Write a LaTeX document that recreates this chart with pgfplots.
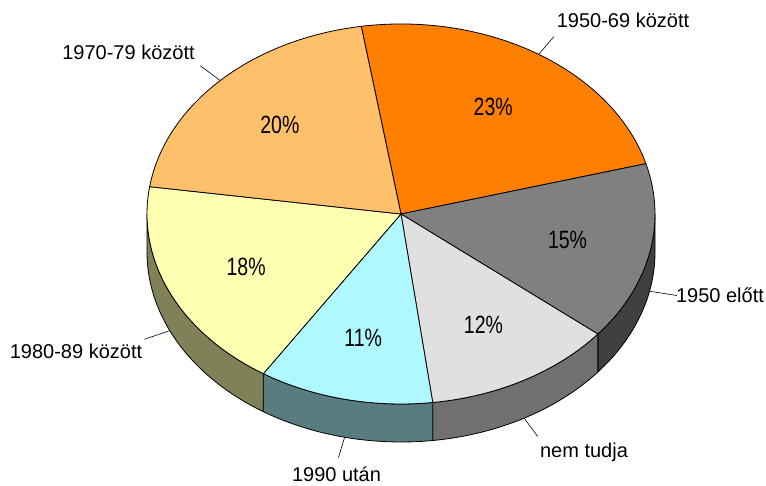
\documentclass[border=0pt]{standalone}
\usepackage{pgfplots}
\pgfplotsset{compat=1.18}
\usepackage{pgfplotstable}
\usepackage{fontspec}
\setmainfont{Liberation Sans}
\newfontfamily\narrowfont[FakeStretch=0.78]{Liberation Sans}

\definecolor{t0}{HTML}{FF8000}
\definecolor{t1}{HTML}{808080}
\definecolor{t2}{HTML}{E0E0E0}
\definecolor{t3}{HTML}{B0F8FF}
\definecolor{t4}{HTML}{FFFFB2}
\definecolor{t5}{HTML}{FFC06C}

% name, value (%), top colour, label baseline position
\pgfplotstableread[col sep=comma]{
name,value,top,lx,ly
1950-69 között,23,t0,623,457.8
1950 előtt,15,t1,720,182.3
nem tudja,12,t2,584,27.3
1990 után,11,t3,336.5,3.8
1980-89 között,18,t4,76,126.7
1970-79 között,20,t5,128.5,425.8
}\piedata

\def\cx{401}\def\cy{271}\def\rx{254}\def\ry{190}\def\dep{38}\def\startang{99}

\begin{document}
\begin{tikzpicture}
\gdef\tot{0}
\foreach \i in {0,...,5}{%
  \pgfplotstablegetelem{\i}{value}\of\piedata
  \pgfmathsetmacro\tmp{\tot+\pgfplotsretval}%
  \xdef\tot{\tmp}%
}
\xdef\cur{\startang}
\foreach \i in {0,...,5}{%
  \pgfplotstablegetelem{\i}{value}\of\piedata
  \let\val\pgfplotsretval
  \expandafter\xdef\csname V\i\endcsname{\val}%
  \pgfplotstablegetelem{\i}{name}\of\piedata
  \expandafter\xdef\csname N\i\endcsname{\pgfplotsretval}%
  \pgfplotstablegetelem{\i}{top}\of\piedata
  \expandafter\xdef\csname C\i\endcsname{\pgfplotsretval}%
  \pgfplotstablegetelem{\i}{lx}\of\piedata
  \expandafter\xdef\csname LX\i\endcsname{\pgfplotsretval}%
  \pgfplotstablegetelem{\i}{ly}\of\piedata
  \expandafter\xdef\csname LY\i\endcsname{\pgfplotsretval}%
  \pgfmathsetmacro\a{\cur}%
  \pgfmathsetmacro\b{\cur-360*\val/\tot}%
  \pgfmathsetmacro\m{(\a+\b)/2}%
  \pgfmathsetmacro\sa{min(\a,0)}%
  \pgfmathsetmacro\sb{max(\b,-180)}%
  \pgfmathtruncatemacro\vis{\sb<\sa ? 1 : 0}%
  \pgfmathtruncatemacro\front{((\m<0) && (\m>-180)) ? 1 : 0}%
  \expandafter\xdef\csname A\i\endcsname{\a}%
  \expandafter\xdef\csname B\i\endcsname{\b}%
  \expandafter\xdef\csname SA\i\endcsname{\sa}%
  \expandafter\xdef\csname SB\i\endcsname{\sb}%
  \expandafter\xdef\csname VIS\i\endcsname{\vis}%
  \pgfmathsetmacro\tmpx{\cx+\rx*cos(\a)}\expandafter\xdef\csname AX\i\endcsname{\tmpx}%
  \pgfmathsetmacro\tmpy{\cy+\ry*sin(\a)}\expandafter\xdef\csname AY\i\endcsname{\tmpy}%
  \pgfmathsetmacro\tmpx{\cx+\rx*cos(\sa)}\expandafter\xdef\csname SX\i\endcsname{\tmpx}%
  \pgfmathsetmacro\tmpy{\cy+\ry*sin(\sa)}\expandafter\xdef\csname SY\i\endcsname{\tmpy}%
  \pgfmathsetmacro\tmpx{\cx+\rx*cos(\sb)}\expandafter\xdef\csname EX\i\endcsname{\tmpx}%
  \pgfmathsetmacro\tmpy{\cy+\ry*sin(\sb)-\dep}\expandafter\xdef\csname EY\i\endcsname{\tmpy}%
  \pgfmathsetmacro\tmpx{\cx+0.67*\rx*cos(\m)}\expandafter\xdef\csname PX\i\endcsname{\tmpx}%
  \pgfmathsetmacro\tmpy{\cy+0.67*\ry*sin(\m)}\expandafter\xdef\csname PY\i\endcsname{\tmpy}%
  \pgfmathsetmacro\tmpx{\cx+\rx*cos(\m)}\expandafter\xdef\csname QX\i\endcsname{\tmpx}%
  \pgfmathsetmacro\tmpy{\cy+\ry*sin(\m)-\front*\dep}\expandafter\xdef\csname QY\i\endcsname{\tmpy}%
  \pgfmathsetmacro\tmpx{\cx+1.11*\rx*cos(\m)}\expandafter\xdef\csname RX\i\endcsname{\tmpx}%
  \pgfmathsetmacro\tmpy{\cy+1.11*\ry*sin(\m)-\front*\dep}\expandafter\xdef\csname RY\i\endcsname{\tmpy}%
  \xdef\cur{\b}%
}
\begin{axis}[
  width=766pt, height=485pt, scale only axis,
  xmin=0, xmax=766, ymin=0, ymax=485,
  hide axis, clip=false]
% fix the picture's extent to the whole canvas
\path (axis cs:0,0) rectangle (axis cs:766,485);
% visible side walls
\pgfplotsinvokeforeach{0,...,5}{%
  \ifnum\csname VIS#1\endcsname=1
  \fill[fill=\csname C#1\endcsname!50!black, draw=black, line width=0.8pt, line join=round]
    (axis cs:\csname SX#1\endcsname,\csname SY#1\endcsname)
    arc[start angle=\csname SA#1\endcsname, end angle=\csname SB#1\endcsname, x radius=\rx pt, y radius=\ry pt]
    -- (axis cs:\csname EX#1\endcsname,\csname EY#1\endcsname)
    arc[start angle=\csname SB#1\endcsname, end angle=\csname SA#1\endcsname, x radius=\rx pt, y radius=\ry pt]
    -- cycle;
  \fi
}
% top faces
\pgfplotsinvokeforeach{0,...,5}{%
  \fill[fill=\csname C#1\endcsname, draw=black, line width=0.8pt, line join=round]
    (axis cs:\cx,\cy) -- (axis cs:\csname AX#1\endcsname,\csname AY#1\endcsname)
    arc[start angle=\csname A#1\endcsname, end angle=\csname B#1\endcsname, x radius=\rx pt, y radius=\ry pt]
    -- cycle;
}
% labels
\pgfplotsinvokeforeach{0,...,5}{%
  \node[font=\narrowfont\fontsize{25}{30}\selectfont] at (axis cs:\csname PX#1\endcsname,\csname PY#1\endcsname) {\csname V#1\endcsname\%};
  \draw[black, line width=0.6pt] (axis cs:\csname QX#1\endcsname,\csname QY#1\endcsname) -- (axis cs:\csname RX#1\endcsname,\csname RY#1\endcsname);
  \node[anchor=base, inner sep=0pt, font=\fontsize{20}{24}\selectfont] at (axis cs:\csname LX#1\endcsname,\csname LY#1\endcsname) {\csname N#1\endcsname};
}
\end{axis}
\end{tikzpicture}
\end{document}
